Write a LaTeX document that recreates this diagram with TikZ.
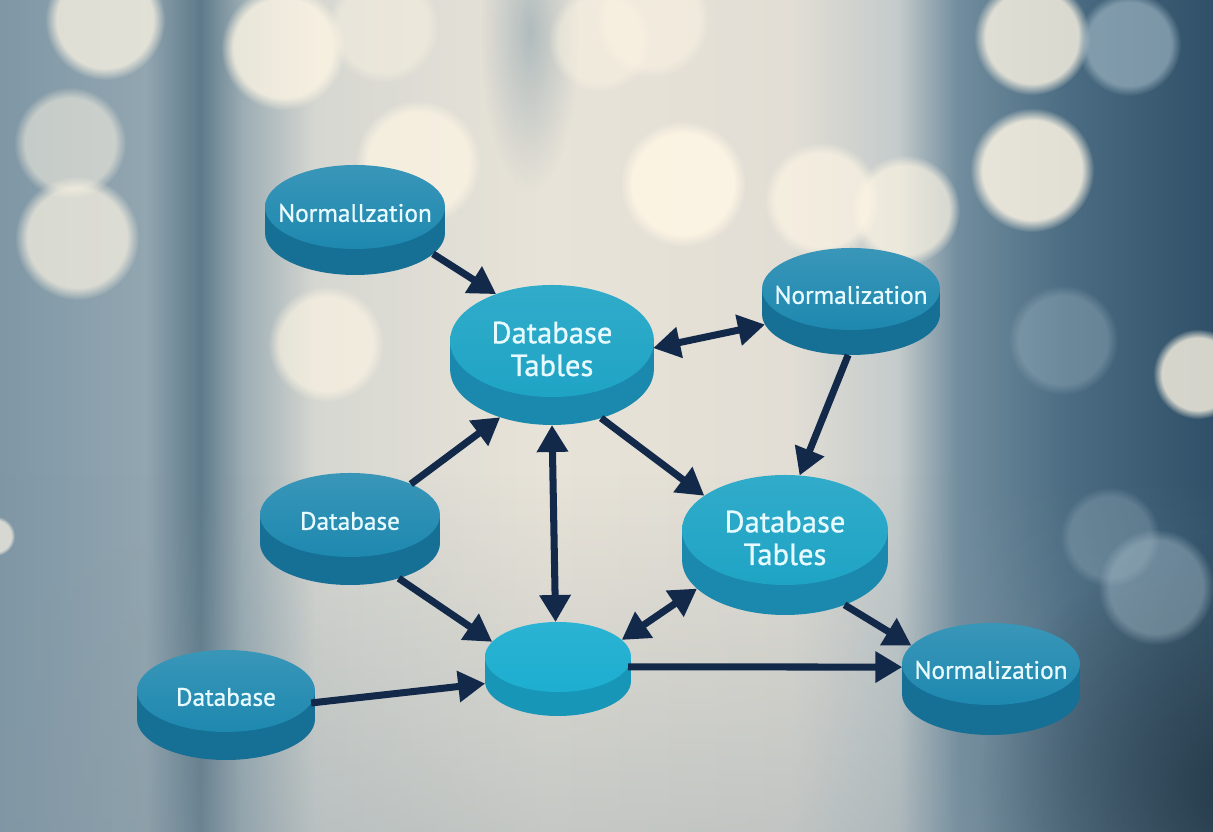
\documentclass[tikz,border=0pt]{standalone}
\usepackage{fontspec}
\setmainfont{PT Sans}
\usetikzlibrary{arrows.meta,shapes.geometric,fadings}

\definecolor{bgA}{HTML}{7F97A6}
\definecolor{bgB}{HTML}{92A6B0}
\definecolor{bgC}{HTML}{5E7A8A}
\definecolor{bgD}{HTML}{9CADB4}
\definecolor{bgE}{HTML}{D6D7D1}
\definecolor{bgF}{HTML}{E8E3D8}
\definecolor{bgG}{HTML}{E2DED5}
\definecolor{bgH}{HTML}{C4CBCB}
\definecolor{bgI}{HTML}{718D9E}
\definecolor{bgJ}{HTML}{4B6C82}
\definecolor{bgK}{HTML}{2F5068}
\definecolor{bgfloor}{HTML}{8496A1}
\definecolor{bokehcol}{HTML}{FDF5E4}
\definecolor{bokehblue}{HTML}{A9BFCB}
\definecolor{darktop}{HTML}{1E88AF}
\definecolor{darkside}{HTML}{166F95}
\definecolor{lighttop}{HTML}{1FA4C5}
\definecolor{lightside}{HTML}{1A89AD}
\definecolor{hubtop}{HTML}{1DAED0}
\definecolor{hubside}{HTML}{1896B8}
\definecolor{linkcol}{HTML}{13294A}
\definecolor{labelcol}{HTML}{E6FAFF}

\pgfdeclarehorizontalshading{backdrop}{100bp}{color(0bp)=(bgA); color(25bp)=(bgA); color(31bp)=(bgB); color(33.25bp)=(bgC); color(35bp)=(bgD); color(38bp)=(bgE); color(47.5bp)=(bgF); color(57.5bp)=(bgG); color(62bp)=(bgH); color(64.5bp)=(bgI); color(69bp)=(bgJ); color(75bp)=(bgK); color(100bp)=(bgK)}
\tikzfading[name=softglow, inner color=transparent!0, outer color=transparent!100]

\begin{document}
\begin{tikzpicture}[
	disk/.style = {ellipse, inner sep = 0pt, outer sep = 0pt},
	darktext/.style = {text = labelcol, yshift = -0.6mm, font = \fontsize{7.2}{8.5}\selectfont\addfontfeatures{FakeBold = 0.9}},
	lighttext/.style = {text = labelcol, yshift = -0.8mm, align = center, font = \fontsize{8.7}{9.3}\selectfont\addfontfeatures{FakeBold = 0.9}},
	darkdisk/.style = {disk, top color = darktop!88!white, bottom color = darktop, label = {[darktext]center:#1}},
	lightdisk/.style = {disk, top color = lighttop!92!white, bottom color = lighttop, label = {[lighttext]center:#1}},
	hubdisk/.style = {disk, top color = hubtop!94!white, bottom color = hubtop},
	link/.style = {draw = linkcol, line width = 2pt, -{Triangle[length = 2.7mm, width = 3mm]}},
	twoway/.style = {link, {Triangle[length = 2.7mm, width = 3mm]}-{Triangle[length = 2.7mm, width = 3mm]}},
	bokeh/.style = {fill = bokehcol, path fading = circle with fuzzy edge 20 percent},
	bluebokeh/.style = {fill = bokehblue, path fading = circle with fuzzy edge 20 percent}
]

\useasboundingbox (0, 0) rectangle (12.13, 8.32);
\clip (0, 0) rectangle (12.13, 8.32);

\shade[shading = backdrop] (0, 0) rectangle (12.13, 8.32);
\fill[bgfloor, path fading = north, opacity = 0.35] (0, 0) rectangle (12.13, 3.6);
\fill[bgK!60!black, path fading = softglow, opacity = 0.8] (12.4, 0.4) circle (2.6);
\fill[bgI, path fading = softglow, opacity = 0.45] (5.3, 8.0) ellipse (0.5 and 1.6);

\fill[bokeh, opacity = 0.75] (1.05, 8.12) circle (0.60);
\fill[bokeh, opacity = 0.80] (2.83, 7.84) circle (0.62);
\fill[bokeh, opacity = 0.45] (3.83, 8.05) circle (0.56);
\fill[bokeh, opacity = 0.55] (0.70, 6.89) circle (0.56);
\fill[bokeh, opacity = 0.70] (0.77, 5.94) circle (0.62);
\fill[bokeh, opacity = 0.75] (4.18, 6.69) circle (0.63);
\fill[bokeh, opacity = 0.65] (3.26, 4.88) circle (0.58);
\fill[bokeh, opacity = 0.45] (6.00, 7.92) circle (0.52);
\fill[bokeh, opacity = 0.50] (6.52, 8.12) circle (0.58);
\fill[bokeh, opacity = 0.90] (6.83, 6.48) circle (0.63);
\fill[bokeh, opacity = 0.70] (8.22, 6.32) circle (0.58);
\fill[bokeh, opacity = 0.70] (9.05, 6.22) circle (0.55);
\fill[bokeh, opacity = 0.80] (10.32, 7.95) circle (0.58);
\fill[bluebokeh, opacity = 0.60] (11.29, 7.88) circle (0.52);
\fill[bokeh, opacity = 0.85] (10.32, 6.62) circle (0.62);
\fill[bluebokeh, opacity = 0.35] (10.63, 4.92) circle (0.55);
\fill[bokeh, opacity = 0.80] (11.98, 4.58) circle (0.45);
\fill[bluebokeh, opacity = 0.45] (11.56, 2.45) circle (0.58);
\fill[bluebokeh, opacity = 0.30] (11.10, 2.95) circle (0.50);
\fill[bokeh, opacity = 0.70] (-0.05, 2.96) circle (0.20);

\node[disk, minimum width = 1.8cm, minimum height = 0.84cm, fill = darkside] (nTop-b) at (3.55, 5.99) {};
\fill[darkside] (nTop-b.west) rectangle ++(1.8, 0.26);
\node[darkdisk = Normallzation, minimum width = 1.8cm, minimum height = 0.84cm] (nTop) at (3.55, 6.25) {};

\node[disk, minimum width = 2.04cm, minimum height = 1.12cm, fill = lightside] (dtA-b) at (5.52, 4.63) {};
\fill[lightside] (dtA-b.west) rectangle ++(2.04, 0.28);
\node[lightdisk = {Database\\Tables}, minimum width = 2.04cm, minimum height = 1.12cm] (dtA) at (5.52, 4.91) {};

\node[disk, minimum width = 1.78cm, minimum height = 0.82cm, fill = darkside] (nRight-b) at (8.51, 5.18) {};
\fill[darkside] (nRight-b.west) rectangle ++(1.78, 0.25);
\node[darkdisk = Normalization, minimum width = 1.78cm, minimum height = 0.82cm] (nRight) at (8.51, 5.43) {};

\node[disk, minimum width = 1.8cm, minimum height = 0.84cm, fill = darkside] (dbLeft-b) at (3.50, 2.89) {};
\fill[darkside] (dbLeft-b.west) rectangle ++(1.8, 0.28);
\node[darkdisk = Database, minimum width = 1.8cm, minimum height = 0.84cm] (dbLeft) at (3.50, 3.17) {};

\node[disk, minimum width = 2.06cm, minimum height = 1.10cm, fill = lightside] (dtB-b) at (7.85, 2.72) {};
\fill[lightside] (dtB-b.west) rectangle ++(2.06, 0.30);
\node[lightdisk = {Database\\Tables}, minimum width = 2.06cm, minimum height = 1.10cm] (dtB) at (7.85, 3.02) {};

\node[disk, minimum width = 1.46cm, minimum height = 0.70cm, fill = hubside] (hub-b) at (5.58, 1.51) {};
\fill[hubside] (hub-b.west) rectangle ++(1.46, 0.24);
\node[hubdisk, minimum width = 1.46cm, minimum height = 0.70cm] (hub) at (5.58, 1.75) {};

\node[disk, minimum width = 1.78cm, minimum height = 0.82cm, fill = darkside] (dbLow-b) at (2.26, 1.13) {};
\fill[darkside] (dbLow-b.west) rectangle ++(1.78, 0.28);
\node[darkdisk = Database, minimum width = 1.78cm, minimum height = 0.82cm] (dbLow) at (2.26, 1.41) {};

\node[disk, minimum width = 1.78cm, minimum height = 0.82cm, fill = darkside] (nLow-b) at (9.91, 1.38) {};
\fill[darkside] (nLow-b.west) rectangle ++(1.78, 0.30);
\node[darkdisk = Normalization, minimum width = 1.78cm, minimum height = 0.82cm] (nLow) at (9.91, 1.68) {};

\draw[link] (nTop-b.-15) -- (dtA.140);
\draw[twoway] (dtA.-4) -- (nRight-b.187);
\draw[link] (nRight-b.-94) -- (dtB.75);
\draw[link] (dbLeft.27) -- (dtA-b.223);
\draw[twoway] (dtA-b.-90) -- (hub.94);
\draw[link] (dtA-b.-45) -- (dtB.157);
\draw[link] (dbLeft-b.-36) -- (hub.167);
\draw[twoway] (dtB-b.198) -- (hub.15);
\draw[link] (dtB-b.-37) -- (nLow.167);
\draw[link] (hub.-8) -- (nLow.182);
\draw[link] (dbLow.-8) -- (hub-b.182);

\end{tikzpicture}
\end{document}
